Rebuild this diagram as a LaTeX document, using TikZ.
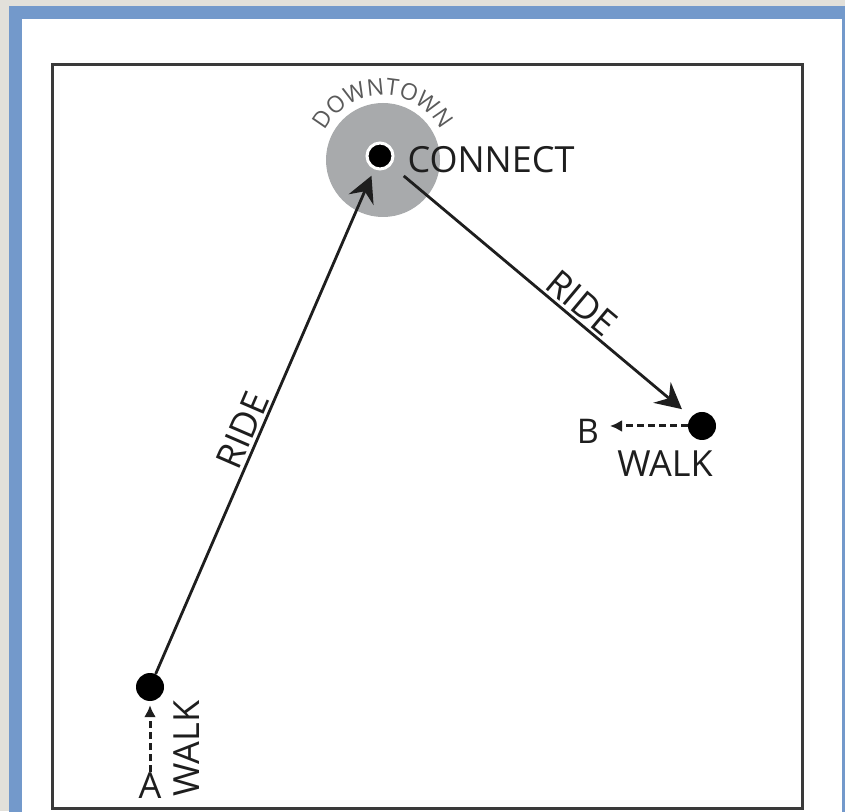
\documentclass[tikz,border=0pt]{standalone}
\usepackage{fontspec}
\setmainfont{Open Sans}
\usetikzlibrary{arrows.meta,decorations.text}
\definecolor{bgc}{HTML}{E2E0DA}
\definecolor{framec}{HTML}{7399CB}
\definecolor{boxc}{HTML}{3A3A3A}
\definecolor{zonec}{HTML}{A8AAAC}
\definecolor{inkc}{HTML}{1E1E1E}
\definecolor{dtc}{HTML}{5A5A5A}
\begin{document}
\begin{tikzpicture}[x=1pt,y=1pt,
  enddot/.style={circle,fill=black,inner sep=0pt,minimum size=28pt},
  hubdot/.style={circle,fill=black,draw=white,line width=3pt,inner sep=0pt,minimum size=26pt},
  ridearrow/.style={line width=2.8pt, draw=inkc, -{Stealth[length=26pt,width=27pt,inset=9pt]}},
  walkarrow/.style={line width=3pt, draw=inkc, dash pattern=on 7pt off 4pt, -{Latex[length=12pt,width=12pt]}},
  bigtxt/.style={font=\fontsize{36}{40}\selectfont, text=inkc, inner sep=0pt},
  ridelabel/.style={font=\fontsize{36}{40}\selectfont, text=inkc, sloped, above, inner sep=3pt}
]
\useasboundingbox (0,0) rectangle (845,811);
\clip (0,0) rectangle (845,811);
\fill[bgc] (0,0) rectangle (845,811);
\fill[framec] (9,-5) rectangle (850,805);
\fill[white] (22,-5) rectangle (842,792);
\draw[boxc, line width=3pt] (52,3) rectangle (802,746);
% downtown zone
\fill[zonec] (383,651) circle (57);
\path[decorate, decoration={text along path, text={|\fontsize{23}{23}\selectfont|DOWNTOWN}, text color=dtc, text align=center}] (383,651) ++(160:65) arc (160:20:65);
% dots
\node[hubdot] (C) at (380,655) {};
\node[enddot] (A) at (150,124) {};
\node[enddot] (B) at (702,385) {};
% rides
\draw[ridearrow, shorten >=7pt] (A) -- node[ridelabel, pos=0.47] {RIDE} (C);
\draw[ridearrow, shorten <=16.5pt, shorten >=12pt] (C) -- node[ridelabel, pos=0.6] {RIDE} (B);
% walks
\coordinate (bw) at (610,385);
\draw[walkarrow] (B) -- (bw);
\coordinate (aw) at (150,39);
\draw[walkarrow, shorten >=4pt] (aw) -- (A);
% texts
\node[bigtxt] (ct) at (491,651.5) {CONNECT};
\node[bigtxt, font=\fontsize{34}{40}\selectfont] (bt) at (588,380) {B};
\node[bigtxt] (bwt) at (665,347.5) {WALK};
\node[bigtxt] (at) at (150,25.5) {A};
\node[bigtxt, rotate=90] (awt) at (187,62.5) {WALK};
\end{tikzpicture}
\end{document}
